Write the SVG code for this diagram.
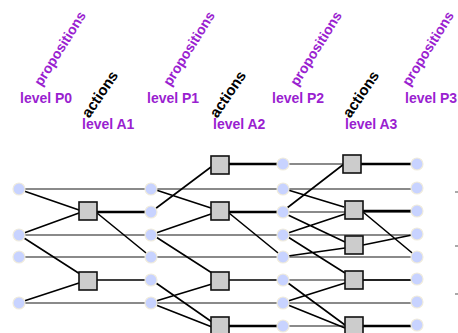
<svg xmlns="http://www.w3.org/2000/svg" width="458" height="333" viewBox="0 0 458 333">
<style>
.lbl{font-family:"Liberation Sans",Arial,sans-serif;font-weight:bold;font-size:14px;fill:#9A1FD0}
.act{font-family:"Liberation Sans",Arial,sans-serif;font-weight:bold;font-size:15px;fill:#000}
.noop{stroke:#8a8a8a;stroke-width:2;fill:none}
.e{stroke:#000;stroke-width:1.6;fill:none}
.t{stroke:#000;stroke-width:2.6;fill:none}
.p{fill:#C8D3FF;stroke:#EFEBDD;stroke-width:1.2}
.a{fill:#CCCCCC;stroke:#111;stroke-width:1.6}
.tick{stroke:#555;stroke-width:1.2}
</style>
<rect width="458" height="333" fill="#fff"/>
<g id="labels">
<text class="lbl" x="64" y="51" text-anchor="middle" transform="rotate(-58 64 51)">propositions</text>
<text class="lbl" x="193" y="51" text-anchor="middle" transform="rotate(-58 193 51)">propositions</text>
<text class="lbl" x="320" y="51" text-anchor="middle" transform="rotate(-58 320 51)">propositions</text>
<text class="lbl" x="432" y="51" text-anchor="middle" transform="rotate(-58 432 51)">propositions</text>
<text class="act" x="104" y="97" text-anchor="middle" transform="rotate(-56 104 97)">actions</text>
<text class="act" x="232" y="97" text-anchor="middle" transform="rotate(-56 232 97)">actions</text>
<text class="act" x="365" y="97" text-anchor="middle" transform="rotate(-56 365 97)">actions</text>
<text class="lbl" x="20" y="103">level P0</text>
<text class="lbl" x="147" y="103">level P1</text>
<text class="lbl" x="272" y="103">level P2</text>
<text class="lbl" x="405" y="103">level P3</text>
<text class="lbl" x="82" y="129">level A1</text>
<text class="lbl" x="213" y="129">level A2</text>
<text class="lbl" x="345" y="129">level A3</text>
</g>
<g id="connectors">
<path class="noop" d="M19 189H417M19 235H417M19 257H417M19 303H417M283 164H417M283 212H417M283 280H417M283 326H417"/>
<path class="e" d="M24 191L79 210M24 233L79 213M24 238L80 274M24 301L79 283"/>
<path class="t" d="M97 212H151"/>
<path class="e" d="M97 213L151 257M97 280H151"/>
<path class="e" d="M155 209L211 167M156 190L211 208M156 233L211 214M156 237L212 273M156 283L212 322M156 301L212 284M156 305L212 327"/>
<path class="t" d="M229 164H283M229 212H283M229 326H283"/>
<path class="e" d="M229 213L283 257M229 280H283"/>
<path class="e" d="M287 208L344 164M288 190L344 207M288 215L345 242M288 233L345 214M288 237L345 273M288 256L345 248M288 283L345 325M288 301L345 283M288 305L345 328"/>
<path class="t" d="M361 164H417M363 211H417M363 326H417"/>
<path class="e" d="M363 212L417 257M363 245L417 234M363 280H417"/>
</g>
<g id="ticks">
<path class="tick" d="M455 192H458M455 246H458M455 294H458"/>
</g>
<g id="P0">
<circle class="p" cx="19" cy="189" r="6"/><circle class="p" cx="19" cy="235" r="6"/><circle class="p" cx="19" cy="257" r="6"/><circle class="p" cx="19" cy="303" r="6"/>
</g>
<g id="A1">
<rect class="a" x="79" y="202" width="18" height="18"/><rect class="a" x="79" y="272" width="18" height="18"/>
</g>
<g id="P1">
<circle class="p" cx="151" cy="189" r="6"/><circle class="p" cx="151" cy="212" r="6"/><circle class="p" cx="151" cy="235" r="6"/><circle class="p" cx="151" cy="257" r="6"/><circle class="p" cx="151" cy="280" r="6"/><circle class="p" cx="151" cy="303" r="6"/>
</g>
<g id="A2">
<rect class="a" x="211" y="156" width="18" height="18"/><rect class="a" x="211" y="202" width="18" height="18"/><rect class="a" x="211" y="272" width="18" height="18"/><rect class="a" x="211" y="317" width="18" height="18"/>
</g>
<g id="P2">
<circle class="p" cx="283" cy="164" r="6"/><circle class="p" cx="283" cy="189" r="6"/><circle class="p" cx="283" cy="212" r="6"/><circle class="p" cx="283" cy="235" r="6"/><circle class="p" cx="283" cy="257" r="6"/><circle class="p" cx="283" cy="280" r="6"/><circle class="p" cx="283" cy="303" r="6"/><circle class="p" cx="283" cy="326" r="6"/>
</g>
<g id="A3">
<rect class="a" x="343" y="155" width="18" height="18"/><rect class="a" x="345" y="201" width="18" height="18"/><rect class="a" x="345" y="236" width="18" height="18"/><rect class="a" x="345" y="271" width="18" height="18"/><rect class="a" x="345" y="317" width="18" height="18"/>
</g>
<g id="P3">
<circle class="p" cx="417" cy="164" r="6"/><circle class="p" cx="417" cy="188" r="6"/><circle class="p" cx="417" cy="211" r="6"/><circle class="p" cx="417" cy="234" r="6"/><circle class="p" cx="417" cy="257" r="6"/><circle class="p" cx="417" cy="279" r="6"/><circle class="p" cx="417" cy="302" r="6"/><circle class="p" cx="417" cy="325" r="6"/>
</g>
</svg>
